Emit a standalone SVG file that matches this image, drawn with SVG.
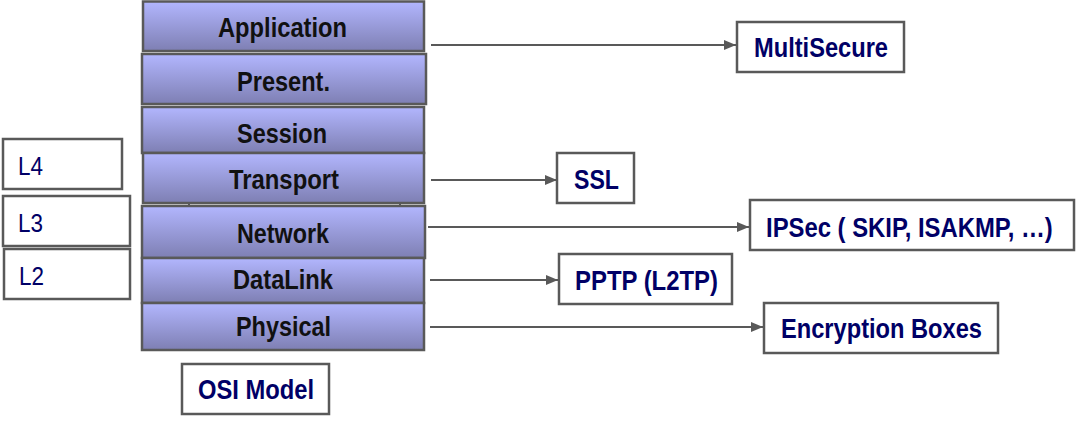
<svg xmlns="http://www.w3.org/2000/svg" width="1076" height="424" viewBox="0 0 1076 424">
<defs>
<linearGradient id="lg" x1="0" y1="0" x2="0" y2="1">
<stop offset="0" stop-color="#b2b6fe"/>
<stop offset="1" stop-color="#7e7fb3"/>
</linearGradient>
<marker id="ah" markerWidth="12" markerHeight="10" refX="12" refY="5" orient="auto" markerUnits="userSpaceOnUse">
<path d="M0,0 L12,5 L0,10 Z" fill="#595959"/>
</marker>
<style>
.layer{fill:url(#lg);stroke:#595959;stroke-width:2.5}
.box{fill:#ffffff;stroke:#595959;stroke-width:2.5}
.lt{font-family:"Liberation Sans",Arial,sans-serif;font-weight:bold;font-size:28px;fill:#111111}
.bt{font-family:"Liberation Sans",Arial,sans-serif;font-weight:bold;font-size:28px;fill:#000066}
.nt{font-family:"Liberation Sans",Arial,sans-serif;font-size:25px;fill:#000066}
.conn{stroke:#595959;stroke-width:2;fill:none;marker-end:url(#ah)}
</style>
</defs>
<rect width="1076" height="424" fill="#ffffff"/>
<g id="bracket"><path d="M189,206 L189,199 L400,199 L400,206" fill="none" stroke="#595959" stroke-width="2"/></g>
<g id="application"><rect class="layer" x="143" y="1.5" width="281" height="49.5"/><text class="lt" x="218" y="37" textLength="129" lengthAdjust="spacingAndGlyphs">Application</text></g>
<g id="presentation"><rect class="layer" x="142" y="54" width="284" height="50"/><text class="lt" x="237" y="91" textLength="93" lengthAdjust="spacingAndGlyphs">Present.</text></g>
<g id="session"><rect class="layer" x="142" y="107" width="282" height="46"/><text class="lt" x="237" y="143" textLength="90" lengthAdjust="spacingAndGlyphs">Session</text></g>
<g id="transport"><rect class="layer" x="143" y="153" width="281" height="50"/><text class="lt" x="229" y="189" textLength="110" lengthAdjust="spacingAndGlyphs">Transport</text></g>
<g id="network"><rect class="layer" x="142" y="206" width="283" height="52"/><text class="lt" x="237" y="243" textLength="92" lengthAdjust="spacingAndGlyphs">Network</text></g>
<g id="datalink"><rect class="layer" x="142" y="258" width="282" height="45"/><text class="lt" x="233" y="289" textLength="100" lengthAdjust="spacingAndGlyphs">DataLink</text></g>
<g id="physical"><rect class="layer" x="142" y="303" width="282" height="47"/><text class="lt" x="236" y="336" textLength="95" lengthAdjust="spacingAndGlyphs">Physical</text></g>
<g id="l4"><rect class="box" x="3" y="139" width="119" height="50"/><text class="nt" x="18" y="175" textLength="25" lengthAdjust="spacingAndGlyphs">L4</text></g>
<g id="l3"><rect class="box" x="3" y="196" width="127" height="50"/><text class="nt" x="18" y="232" textLength="25" lengthAdjust="spacingAndGlyphs">L3</text></g>
<g id="l2"><rect class="box" x="4" y="249" width="126" height="50"/><text class="nt" x="19" y="285" textLength="25" lengthAdjust="spacingAndGlyphs">L2</text></g>
<g id="osi"><rect class="box" x="182" y="364" width="147" height="50"/><text class="bt" x="198" y="399" textLength="116" lengthAdjust="spacingAndGlyphs">OSI Model</text></g>
<g id="multisecure"><rect class="box" x="737" y="22" width="167" height="50"/><text class="bt" x="754" y="57" textLength="134" lengthAdjust="spacingAndGlyphs">MultiSecure</text></g>
<g id="ssl"><rect class="box" x="557" y="153" width="77" height="50"/><text class="bt" x="574" y="189" textLength="45" lengthAdjust="spacingAndGlyphs">SSL</text></g>
<g id="ipsec"><rect class="box" x="750" y="200" width="324" height="50"/><text class="bt" x="0" y="0" transform="translate(766 237) scale(0.852 1)">IPSec ( SKIP, ISAKMP, …)</text></g>
<g id="pptp"><rect class="box" x="559" y="254" width="173" height="50"/><text class="bt" x="575" y="290" textLength="143" lengthAdjust="spacingAndGlyphs">PPTP (L2TP)</text></g>
<g id="encryption"><rect class="box" x="764" y="303" width="234" height="50"/><text class="bt" x="781" y="338" textLength="201" lengthAdjust="spacingAndGlyphs">Encryption Boxes</text></g>
<g id="connectors">
<line class="conn" x1="431" y1="45" x2="736" y2="45"/>
<line class="conn" x1="431" y1="180" x2="557" y2="180"/>
<line class="conn" x1="428" y1="227" x2="749" y2="227"/>
<line class="conn" x1="430" y1="280" x2="558" y2="280"/>
<line class="conn" x1="430" y1="327" x2="763" y2="327"/>
</g>
</svg>
